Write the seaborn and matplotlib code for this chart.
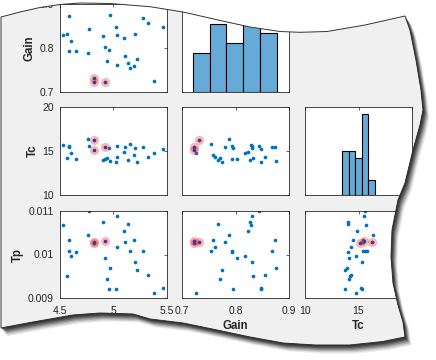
import numpy as np
import pandas as pd
import matplotlib
matplotlib.use("Agg")
import matplotlib.pyplot as plt
import seaborn as sns
from matplotlib.path import Path
from matplotlib.patches import PathPatch

# ---------------- data ----------------
x1 = [4.528, 4.563, 4.584, 4.587, 4.600, 4.650, 4.762, 4.774, 4.818, 4.821,
      4.921, 4.905, 4.921, 4.936, 4.955, 4.967, 5.023, 5.030, 5.035, 5.098,
      5.107, 5.138, 5.154, 5.194, 5.198, 5.217, 5.279, 5.320, 5.376, 5.465]
gain = [0.829, 0.832, 0.794, 0.873, 0.817, 0.793, 0.788, 0.844, 0.731, 0.722,
        0.722, 0.828, 0.803, 0.771, 0.795, 0.875, 0.847, 0.830, 0.761, 0.823,
        0.781, 0.767, 0.755, 0.758, 0.831, 0.775, 0.868, 0.856, 0.726, 0.848]
tc = [15.72, 14.17, 15.60, 15.45, 14.74, 14.06, 16.33, 15.57, 16.25, 15.11,
      15.49, 13.98, 14.13, 14.15, 15.32, 13.90, 13.78, 15.53, 14.28, 14.89,
      15.42, 14.01, 15.76, 14.51, 15.31, 13.72, 15.40, 14.30, 14.81, 15.19]
tp = [0.010685, 0.009506, 0.010087, 0.010333, 0.009966, 0.010051, 0.010455,
      0.010990, 0.010294, 0.010257, 0.010303, 0.010754, 0.009920, 0.009430,
      0.009214, 0.009697, 0.009207, 0.010892, 0.010172, 0.010547, 0.010280,
      0.010694, 0.010090, 0.010335, 0.009834, 0.009637, 0.010085, 0.009529,
      0.009122, 0.009223]
highlight = [False] * 8 + [True, True, True] + [False] * 19

gain_bins = [0.7205, 0.7518, 0.7830, 0.8143, 0.8455, 0.8768]
tc_bins = [13.5, 14.1, 14.7, 15.3, 15.9, 16.5]

x1_ticks, x1_labels = [4.5, 5.0, 5.5], ["4.5", "5", "5.5"]
gain_ticks, gain_labels = [0.7, 0.8, 0.9], ["0.7", "0.8", "0.9"]
tc_ticks, tc_labels = [10, 15, 20], ["10", "15", "20"]
tp_ticks, tp_labels = [0.009, 0.010, 0.011], ["0.009", "0.01", "0.011"]

df = pd.DataFrame({"x1": x1, "Gain": gain, "Tc": tc, "Tp": tp, "hl": highlight})
hl = df[df["hl"]]

# ---------------- style ----------------
sns.set_style("white")
plt.rcParams["font.family"] = ["Liberation Sans", "DejaVu Sans"]

W, H = 436, 360
fig = plt.figure(figsize=(W / 100, H / 100), dpi=100)
fig.patch.set_facecolor("white")

BLUE = "#0072BD"
HISTC = "#66AAD7"
AXC = "#262626"

col_left = [60, 182, 305]
col_w = 107
row_top = [4, 107, 211]
row_h = [88, 88, 87]

def make_ax(r, c):
    l = col_left[c] / W
    b = 1 - (row_top[r] + row_h[r]) / H
    ax = fig.add_axes([l, b, col_w / W, row_h[r] / H])
    ax.set_facecolor("white")
    for s in ax.spines.values():
        s.set_color(AXC)
        s.set_linewidth(0.6)
    ax.tick_params(direction="in", length=2.5, width=0.5, colors=AXC,
                   top=True, right=True, labelsize=7.5, pad=4.5)
    ax.tick_params(axis="x", pad=5.5)
    return ax

vars_info = {
    "x1": (x1_ticks, x1_labels, (4.5, 5.5)),
    "Gain": (gain_ticks, gain_labels, (0.7, 0.9)),
    "Tc": (tc_ticks, tc_labels, (10, 20)),
    "Tp": (tp_ticks, tp_labels, (0.009, 0.011)),
}
col_vars = ["x1", "Gain", "Tc"]
row_vars = ["Gain", "Tc", "Tp"]

for r, yv in enumerate(row_vars):
    for c, xv in enumerate(col_vars):
        if r == 0 and c == 2:
            continue
        ax = make_ax(r, c)
        xt, xl, xlim = vars_info[xv]
        if xv == yv:
            bins = gain_bins if xv == "Gain" else tc_bins
            sns.histplot(data=df, x=xv, bins=bins, ax=ax, color=HISTC,
                         edgecolor="black", linewidth=0.8, alpha=1.0)
            ax.set_ylim(0, 9 if xv == "Gain" else 12)
            ax.set_yticks([])
        else:
            sns.scatterplot(data=df, x=xv, y=yv, ax=ax, s=7, color=BLUE,
                            linewidth=0, legend=False)
            sns.scatterplot(data=hl, x=xv, y=yv, ax=ax, s=34,
                            color=(1, 0.1, 0.1, 0.28), edgecolor=(1, 0.2, 0.2, 0.25),
                            linewidth=0.8, legend=False)
            sns.scatterplot(data=hl, x=xv, y=yv, ax=ax, s=6,
                            color="#3A3F8F", linewidth=0, legend=False)
            yt, yl, ylim = vars_info[yv]
            ax.set_ylim(*ylim)
            ax.set_yticks(yt)
            if c == 0:
                ax.set_yticklabels(yl)
                ax.set_ylabel(yv, fontsize=8.3, fontweight="bold", labelpad=2.5)
            else:
                ax.set_yticklabels([])
                ax.set_ylabel("")
        ax.set_xlim(*xlim)
        ax.set_xticks(xt)
        if r == 2:
            ax.set_xticklabels(xl)
            if xv != "x1":
                ax.set_xlabel(xv, fontsize=8.3, fontweight="bold", labelpad=3)
            else:
                ax.set_xlabel("")
        else:
            ax.set_xticklabels([])
            ax.set_xlabel("")
        if xv == yv:
            ax.set_ylabel("")

# ---------------- torn paper frame ----------------
outline = [(1, 17), (20, 12), (40, 7.5), (60, 4.5), (80, 3), (110, 3.5), (150, 6.7),
           (183, 12), (227, 22), (250, 27), (280, 31.5), (300, 32.3), (327, 31.5),
           (365, 25), (405, 16),
           (410, 30), (416, 60), (421, 90), (423, 110), (420, 125), (413, 150),
           (405, 183), (398, 200), (392, 230), (391, 257), (393, 283), (398, 305),
           (403, 322), (405, 337),
           (383, 341.5), (350, 345), (315, 345), (283, 343), (250, 337), (217, 330),
           (183, 323), (150, 319), (133, 314), (100, 313), (73, 315), (33, 322),
           (1, 328)]

def fpts(pts, dx=0.0, dy=0.0):
    return [((x + dx) / W, 1 - (y + dy) / H) for x, y in pts]

poly = fpts(outline)
panel_path = Path(poly + [poly[0]], [Path.MOVETO] + [Path.LINETO] * (len(poly) - 1) + [Path.CLOSEPOLY])
panel = PathPatch(panel_path, facecolor="#F0F0F0", edgecolor="none",
                  transform=fig.transFigure, zorder=-1)
fig.add_artist(panel)

outer = [(-0.1, -0.1), (1.1, -0.1), (1.1, 1.1), (-0.1, 1.1)]
verts = outer + [outer[0]] + poly + [poly[0]]
codes = ([Path.MOVETO] + [Path.LINETO] * 3 + [Path.CLOSEPOLY] +
         [Path.MOVETO] + [Path.LINETO] * (len(poly) - 1) + [Path.CLOSEPOLY])
mask_path = Path(verts, codes)
mask = PathPatch(mask_path, facecolor="white", edgecolor="none",
                 transform=fig.transFigure, zorder=5)
fig.add_artist(mask)

for k, a in [(7, 0.10), (6, 0.14), (5, 0.2), (4, 0.28), (3, 0.38), (2, 0.5), (1, 0.65)]:
    sp = fpts(outline, dx=k * 0.9, dy=k * 1.2)
    shp = PathPatch(Path(sp + [sp[0]], [Path.MOVETO] + [Path.LINETO] * (len(sp) - 1) + [Path.CLOSEPOLY]),
                    facecolor="#2A2A2A", edgecolor="none", alpha=a,
                    transform=fig.transFigure, zorder=6)
    fig.add_artist(shp)
    shp.set_clip_path(mask)

border = PathPatch(panel_path, facecolor="none", edgecolor="#333333", linewidth=0.7,
                   transform=fig.transFigure, zorder=7)
fig.add_artist(border)

fig.savefig("out.png", dpi=100)
